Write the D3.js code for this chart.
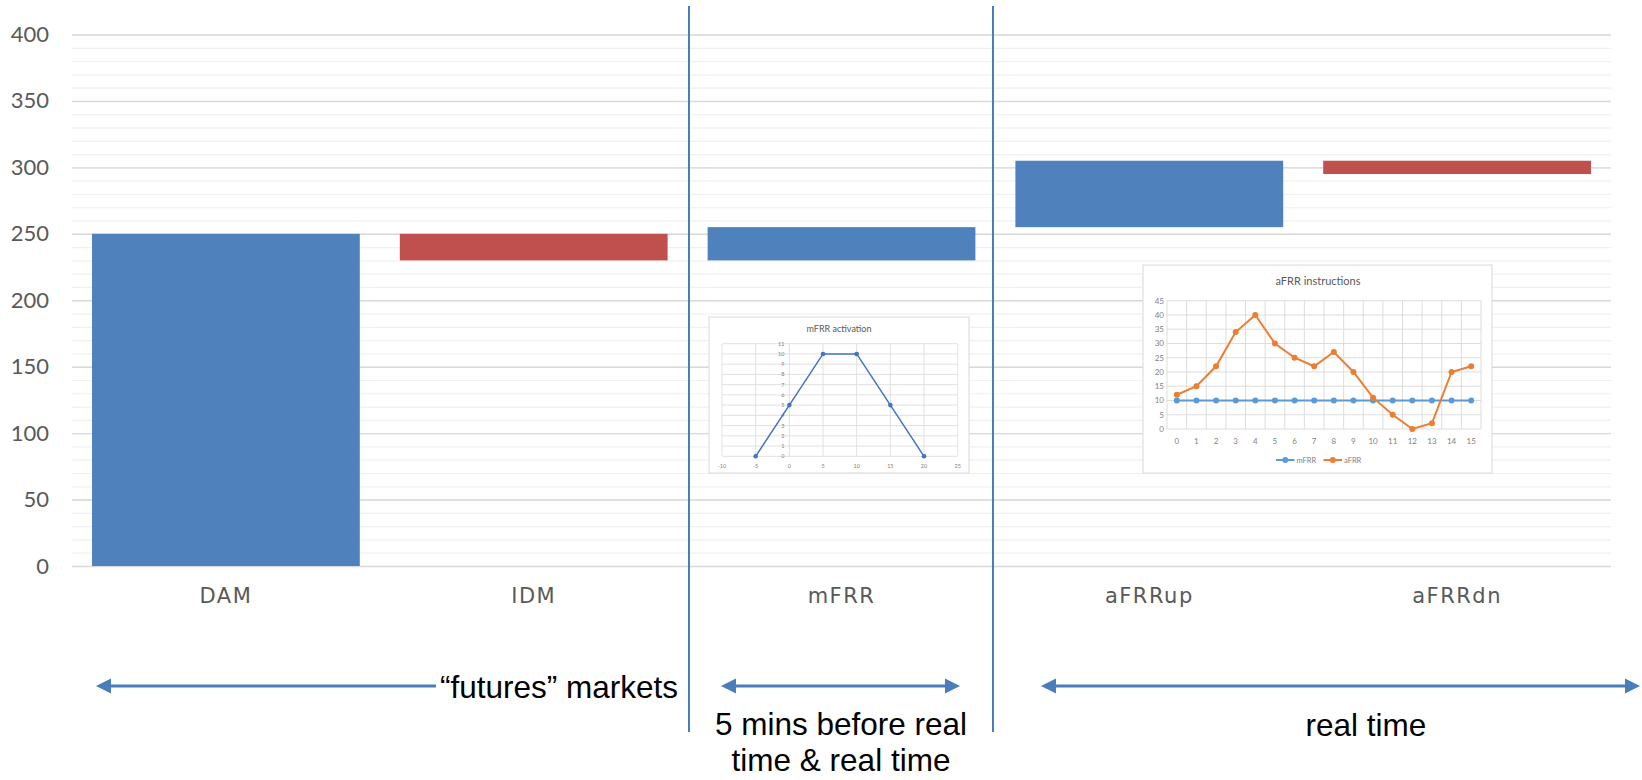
<!DOCTYPE html>
<html>
<head>
<meta charset="utf-8">
<title>Balancing markets</title>
<script src="https://cdn.jsdelivr.net/npm/d3@7"></script>
<style>
  body { margin: 0; background: #fff; }
  text { font-family: Lato, "Open Sans", sans-serif; }
  .note { font-family: "Liberation Sans", Arial, sans-serif; fill: #000; }
</style>
</head>
<body>
<svg id="chart" width="1642" height="780"></svg>
<script>
// main waterfall
var categories = ["DAM", "IDM", "mFRR", "aFRRup", "aFRRdn"];
var barLow = [0, 230, 230, 255, 295];
var barHigh = [250, 250, 255, 305, 305];
var barDir = ["up", "down", "up", "up", "down"];
var yTicks = [0, 50, 100, 150, 200, 250, 300, 350, 400];
var yMinor = [0, 10, 20, 30, 40, 50, 60, 70, 80, 90, 100, 110, 120, 130, 140, 150, 160, 170, 180, 190,
              200, 210, 220, 230, 240, 250, 260, 270, 280, 290, 300, 310, 320, 330, 340, 350, 360, 370, 380, 390, 400];

// inset 1: mFRR activation
var mfrrT = [-5, 0, 5, 10, 15, 20];
var mfrrV = [0, 5, 10, 10, 5, 0];
var mfrrXTicks = [-10, -5, 0, 5, 10, 15, 20, 25];
var mfrrYTicks = [0, 1, 2, 3, 4, 5, 6, 7, 8, 9, 10, 11];

// inset 2: aFRR instructions
var afrrSteps = ["0", "1", "2", "3", "4", "5", "6", "7", "8", "9", "10", "11", "12", "13", "14", "15"];
var afrrMfrr = [10, 10, 10, 10, 10, 10, 10, 10, 10, 10, 10, 10, 10, 10, 10, 10];
var afrrAfrr = [12, 15, 22, 34, 40, 30, 25, 22, 27, 20, 11, 5, 0, 2, 20, 22];
var afrrYTicks = [0, 5, 10, 15, 20, 25, 30, 35, 40, 45];

var svg = d3.select("#chart");
var blue = "#4f81bd", red = "#c0504d", arrowBlue = "#4a7ebb";

var x = d3.scaleBand().domain(categories).range([72, 1611]).paddingInner(0.13).paddingOuter(0.065);
var y = d3.scaleLinear().domain([0, 400]).range([566, 34.5]);

// minor + major grid
svg.append("g")
    .attr("transform", "translate(72,0)")
    .call(d3.axisLeft(y).tickValues(yMinor).tickSize(-1539).tickFormat(""))
    .call(function(g) {
      g.select(".domain").remove();
      g.selectAll("line").attr("stroke", "#f0f0f0").attr("stroke-width", 1.2);
    });

svg.append("g")
    .attr("transform", "translate(72,0)")
    .call(d3.axisLeft(y).tickValues(yTicks).tickSize(-1539).tickPadding(23))
    .call(function(g) {
      g.select(".domain").remove();
      g.selectAll("line").attr("stroke", "#d9d9d9").attr("stroke-width", 1.4);
      g.selectAll("text").attr("fill", "#595959").style("font-size", "22px");
    });

svg.append("g")
    .attr("transform", "translate(0,566)")
    .call(d3.axisBottom(x).tickSize(0).tickPadding(22))
    .call(function(g) {
      g.select(".domain").remove();
      g.selectAll("text").attr("fill", "#595959")
        .style("font-family", "'DejaVu Sans', sans-serif")
        .style("font-size", "21px").style("letter-spacing", "1.5px");
    });

// bars
svg.append("g").selectAll("rect")
  .data(categories)
  .enter().append("rect")
    .attr("x", function(d) { return x(d); })
    .attr("width", x.bandwidth())
    .attr("y", function(d, i) { return y(barHigh[i]); })
    .attr("height", function(d, i) { return y(barLow[i]) - y(barHigh[i]); })
    .attr("fill", function(d, i) { return barDir[i] == "up" ? blue : red; });

// separators between market groups
[689, 993].forEach(function(px) {
  svg.append("line")
    .attr("x1", px).attr("x2", px)
    .attr("y1", 6).attr("y2", 732)
    .attr("stroke", arrowBlue).attr("stroke-width", 2);
});

// ---- inset: mFRR activation ----
function mfrrInset() {
  var g = svg.append("g");
  g.append("rect").attr("x", 709).attr("y", 317).attr("width", 260).attr("height", 156)
    .attr("fill", "#fff").attr("stroke", "#d9d9d9");
  g.append("text").attr("x", 839).attr("y", 332).attr("text-anchor", "middle")
    .attr("fill", "#595959").style("font-size", "9px").text("mFRR activation");

  var ix = d3.scaleLinear().domain([-10, 25]).range([722, 957.7]);
  var iy = d3.scaleLinear().domain([0, 11]).range([456.3, 343.7]);

  g.append("g").selectAll("line").data(mfrrXTicks).enter().append("line")
    .attr("x1", ix).attr("x2", ix).attr("y1", iy(0)).attr("y2", iy(11))
    .attr("stroke", "#d9d9d9").attr("stroke-width", 0.8);
  g.append("g").selectAll("line").data(mfrrYTicks).enter().append("line")
    .attr("x1", ix(-10)).attr("x2", ix(25)).attr("y1", iy).attr("y2", iy)
    .attr("stroke", "#d9d9d9").attr("stroke-width", 0.8);

  g.append("g").selectAll("text").data(mfrrXTicks).enter().append("text")
    .attr("x", ix).attr("y", 467.5).attr("text-anchor", "middle")
    .attr("fill", "#7f7f7f").style("font-size", "5.5px").text(function(d) { return d; });
  g.append("g").selectAll("text").data(mfrrYTicks).enter().append("text")
    .attr("x", ix(0) - 5).attr("y", iy).attr("dy", "0.35em").attr("text-anchor", "end")
    .attr("fill", "#7f7f7f").style("font-size", "5.5px").text(function(d) { return d; });

  var pts = mfrrT.map(function(t, i) { return [ix(t), iy(mfrrV[i])]; });
  g.append("path").attr("d", d3.line()(pts))
    .attr("fill", "none").attr("stroke", "#4472c4").attr("stroke-width", 1.5);
  g.append("g").selectAll("circle").data(pts).enter().append("circle")
    .attr("cx", function(d) { return d[0]; }).attr("cy", function(d) { return d[1]; })
    .attr("r", 2.3).attr("fill", "#4472c4");
}

// ---- inset: aFRR instructions ----
function afrrInset() {
  var g = svg.append("g");
  g.append("rect").attr("x", 1143).attr("y", 265).attr("width", 349).attr("height", 208)
    .attr("fill", "#fff").attr("stroke", "#d9d9d9");
  g.append("text").attr("x", 1318).attr("y", 285).attr("text-anchor", "middle")
    .attr("fill", "#595959").style("font-size", "11px").text("aFRR instructions");

  var ix = d3.scaleBand().domain(afrrSteps).range([1167, 1481]);
  var iy = d3.scaleLinear().domain([0, 45]).range([429, 300.7]);

  g.append("g").selectAll("line").data(afrrSteps.concat(["end"])).enter().append("line")
    .attr("x1", function(d, i) { return 1167 + i * ix.step(); })
    .attr("x2", function(d, i) { return 1167 + i * ix.step(); })
    .attr("y1", iy(0)).attr("y2", iy(45))
    .attr("stroke", "#d9d9d9").attr("stroke-width", 0.9);
  g.append("g").selectAll("line").data(afrrYTicks).enter().append("line")
    .attr("x1", 1167).attr("x2", 1481).attr("y1", iy).attr("y2", iy)
    .attr("stroke", "#d9d9d9").attr("stroke-width", 0.9);

  g.append("g").selectAll("text").data(afrrSteps).enter().append("text")
    .attr("x", function(d) { return ix(d) + ix.bandwidth() / 2; }).attr("y", 443.5)
    .attr("text-anchor", "middle").attr("fill", "#7f7f7f").style("font-size", "8px")
    .text(function(d) { return d; });
  g.append("g").selectAll("text").data(afrrYTicks).enter().append("text")
    .attr("x", 1164).attr("y", iy).attr("dy", "0.35em").attr("text-anchor", "end")
    .attr("fill", "#7f7f7f").style("font-size", "8px").text(function(d) { return d; });

  var series = [
    { name: "mFRR", values: afrrMfrr, color: "#5b9bd5" },
    { name: "aFRR", values: afrrAfrr, color: "#ed7d31" }
  ];
  series.forEach(function(s) {
    var pts = s.values.map(function(v, i) {
      return [ix(afrrSteps[i]) + ix.bandwidth() / 2, iy(v)];
    });
    g.append("path").attr("d", d3.line()(pts))
      .attr("fill", "none").attr("stroke", s.color).attr("stroke-width", 2);
    g.append("g").selectAll("circle").data(pts).enter().append("circle")
      .attr("cx", function(d) { return d[0]; }).attr("cy", function(d) { return d[1]; })
      .attr("r", 3).attr("fill", s.color);
  });

  // legend
  var lg = g.append("g").selectAll("g").data(series).enter().append("g")
    .attr("transform", function(d, i) { return "translate(" + (1276 + i * 47.5) + ",460)"; });
  lg.append("line").attr("x1", 0).attr("x2", 18.5)
    .attr("stroke", function(d) { return d.color; }).attr("stroke-width", 2);
  lg.append("circle").attr("cx", 9.3).attr("r", 3).attr("fill", function(d) { return d.color; });
  lg.append("text").attr("x", 20.5).attr("dy", "0.35em").attr("fill", "#7f7f7f")
    .style("font-size", "7.5px").text(function(d) { return d.name; });
}

mfrrInset();
afrrInset();

// ---- annotations ----
function arrowHead(tx, ty, dir) {
  var len = 15, half = 7.5;
  svg.append("path")
    .attr("d", "M" + tx + "," + ty + "L" + (tx - dir * len) + "," + (ty - half) +
               "L" + (tx - dir * len) + "," + (ty + half) + "Z")
    .attr("fill", arrowBlue);
}
function arrow(x1, x2, ay, both) {
  svg.append("line")
    .attr("x1", x1 + 10).attr("x2", both ? x2 - 10 : x2)
    .attr("y1", ay).attr("y2", ay)
    .attr("stroke", arrowBlue).attr("stroke-width", 3);
  arrowHead(x1, ay, -1);
  if (both) arrowHead(x2, ay, 1);
}
arrow(96, 436, 686, false);
arrow(721, 960, 686, true);
arrow(1041, 1640, 686, true);

svg.append("text").attr("class", "note").attr("x", 440).attr("y", 698)
  .style("font-size", "31.5px").text("\u201cfutures\u201d markets");
svg.append("text").attr("class", "note").attr("x", 841).attr("y", 735).attr("text-anchor", "middle")
  .style("font-size", "31.5px").text("5 mins before real");
svg.append("text").attr("class", "note").attr("x", 841).attr("y", 771).attr("text-anchor", "middle")
  .style("font-size", "31.5px").text("time & real time");
svg.append("text").attr("class", "note").attr("x", 1366).attr("y", 736).attr("text-anchor", "middle")
  .style("font-size", "31.5px").text("real time");
</script>
</body>
</html>
